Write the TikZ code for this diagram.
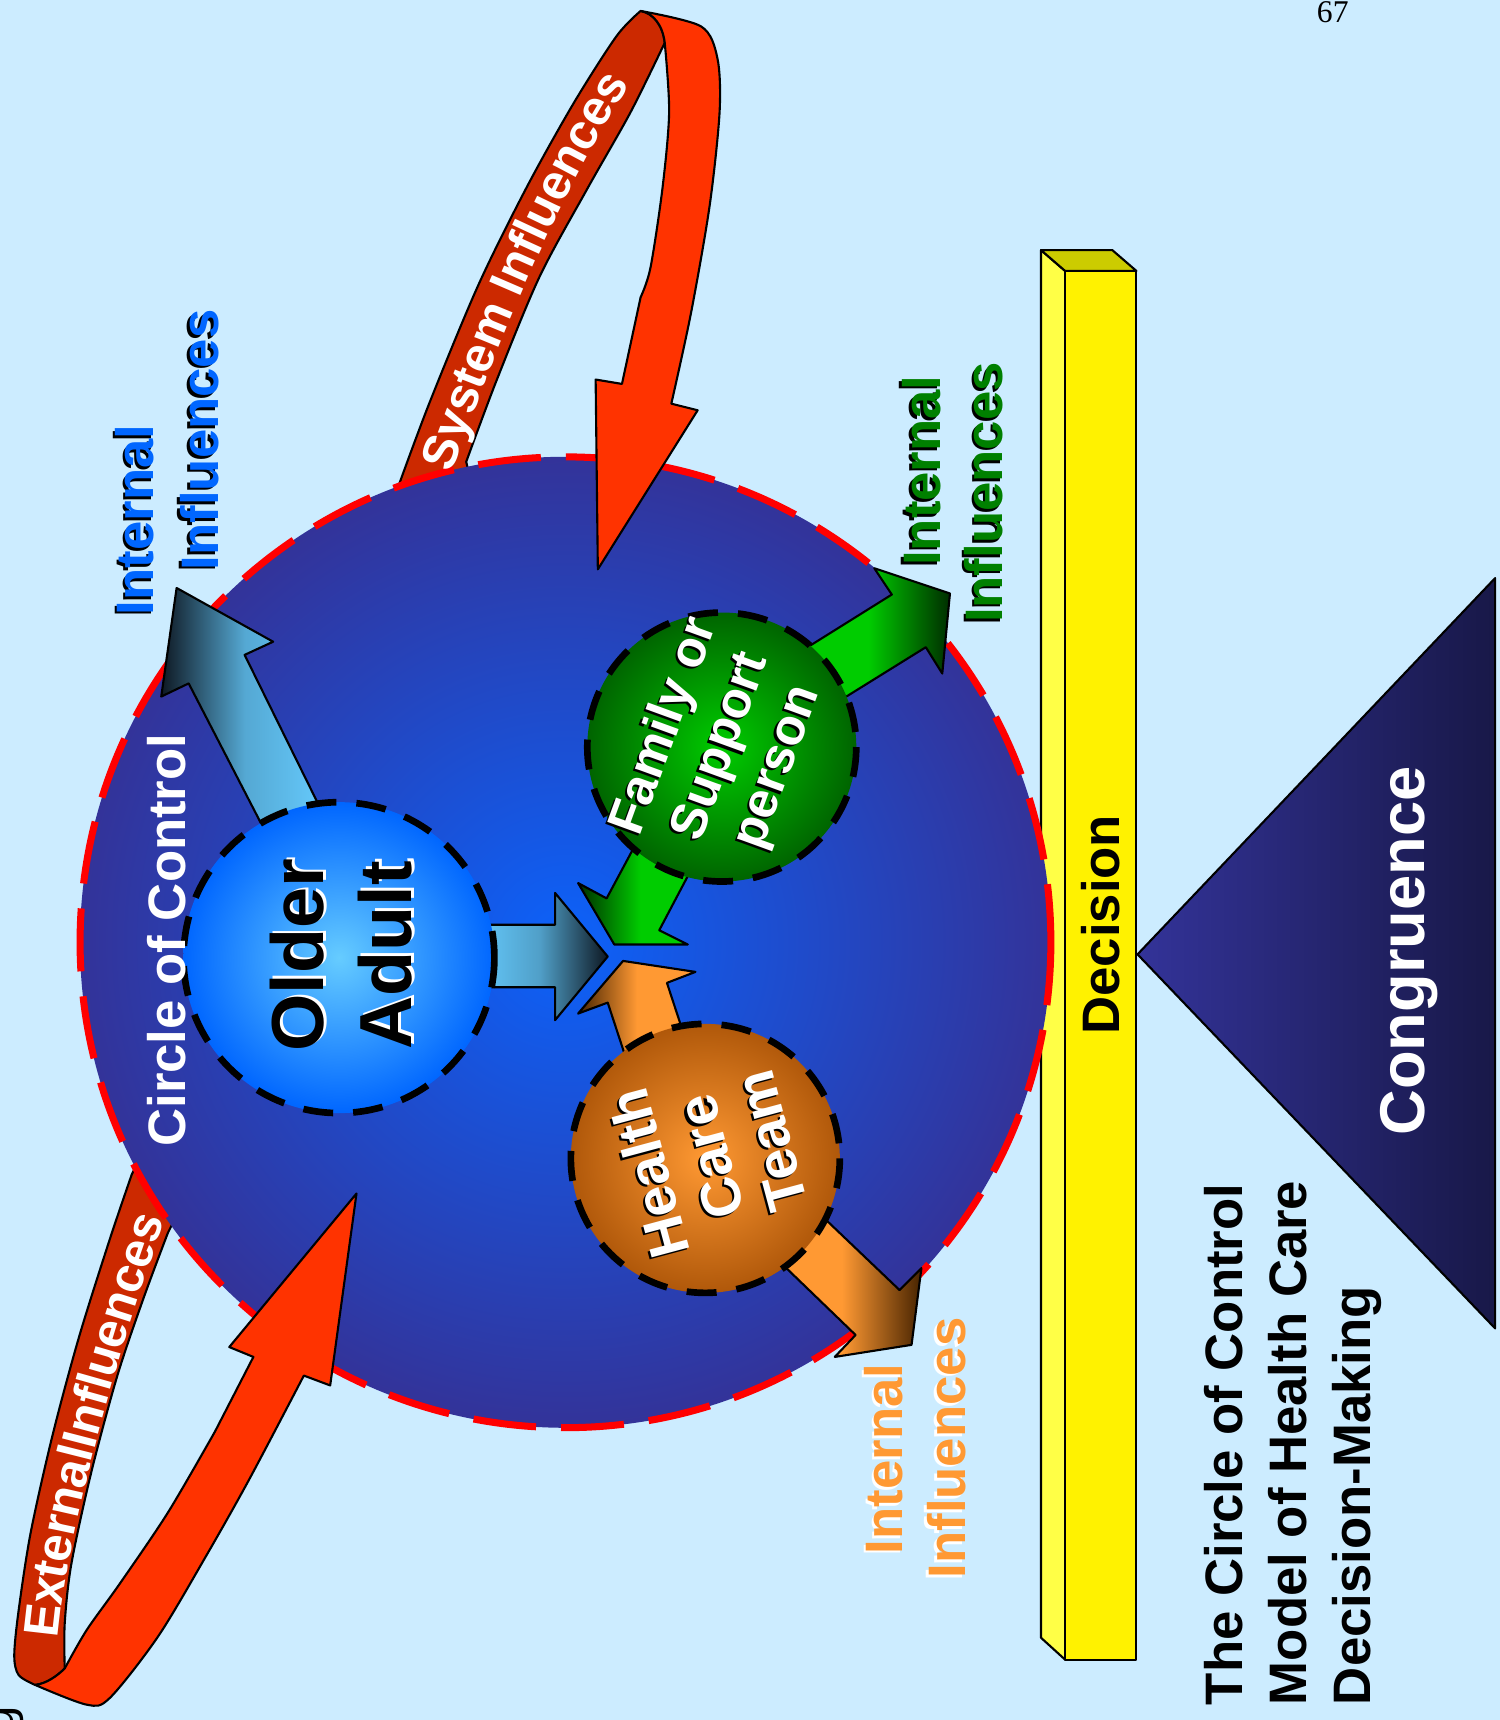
\documentclass[tikz,border=0pt]{standalone}
\usepackage{fontspec}
\setmainfont{Liberation Sans}
\newfontfamily\pagefont{Liberation Serif}
\usetikzlibrary{decorations.text}

\definecolor{sky}{RGB}{204,236,255}
\definecolor{ringin}{RGB}{12,98,250}
\definecolor{ringout}{RGB}{51,51,153}
\definecolor{oldin}{RGB}{102,204,255}
\definecolor{oldout}{RGB}{0,102,255}
\definecolor{famin}{RGB}{0,204,0}
\definecolor{famout}{RGB}{0,100,0}
\definecolor{hcin}{RGB}{255,153,51}
\definecolor{hcout}{RGB}{176,88,10}
\definecolor{ribdark}{RGB}{204,41,0}
\definecolor{riblight}{RGB}{255,51,0}
\definecolor{blueinf}{RGB}{0,102,255}
\definecolor{greeninf}{RGB}{0,128,0}
\definecolor{orangeinf}{RGB}{255,153,51}
\definecolor{arrowdark}{RGB}{14,24,34}
\definecolor{greendark}{RGB}{0,45,0}
\definecolor{browndark}{RGB}{70,35,0}
\definecolor{barside}{RGB}{255,255,70}
\definecolor{bartop}{RGB}{204,204,0}
\definecolor{congleft}{RGB}{51,51,153}
\definecolor{congright}{RGB}{24,24,72}

\newcommand\ribbonfont{\bfseries\fontsize{14}{14}\selectfont}

\begin{document}
\begin{tikzpicture}[x=0.1097mm, y=-0.1097mm, line join=round,
  ribbon/.style={draw=black, line width=0.6pt},
  blockarrow/.style={draw=black, line width=0.6pt},
  member/.style={circle, inner sep=0pt},
  memberline/.style={draw=black, line width=1.9pt, dash pattern=on 3mm off 2mm},
  infl/.style={rotate=90, inner sep=0pt, font=\bfseries\fontsize{15}{18}\selectfont},
  memtext/.style={inner sep=0pt, align=center, text=white}]
  % --- page ---
  \useasboundingbox (0,0) rectangle (1367,1568);
  \fill[sky] (0,0) rectangle (1367,1568);

  % --- decision bar (3d box) ---
  \draw[fill=barside, line width=0.6pt] (949,228) -- (971,247) -- (971,1513) -- (949,1493) -- cycle;
  \draw[fill=bartop, line width=0.6pt] (949,228) -- (1014,228) -- (1036,247) -- (971,247) -- cycle;
  \draw[fill=yellow, line width=0.6pt] (971,247) rectangle (1036,1513);
  \node[rotate=90, inner sep=0pt, font=\bfseries\fontsize{15}{18}\selectfont] (decision) at (1003,843) {Decision};

  % --- ribbons, back side (behind the ring) ---
  \draw[ribbon, fill=ribdark]
    (372,470) -- plot[smooth] coordinates {(364,441) (392,366) (436,260) (480,171) (523,94) (562,33) (584,10)}
    .. controls (595,12) and (604,22) .. (606,39)
    -- plot[smooth] coordinates {(606,39) (575,102) (536,171) (492,252) (453,346) (425,421)}
    -- (432,450) -- cycle;
  \draw[ribbon, fill=ribdark]
    (129,1053) -- plot[smooth] coordinates {(120,1071) (100,1130) (72,1219) (48,1308) (28,1397) (17,1468) (13,1509) (17,1527) (32,1536)}
    .. controls (42,1535) and (52,1528) .. (59,1521)
    -- plot[smooth] coordinates {(59,1521) (59,1480) (65,1426) (83,1343) (107,1254) (131,1183) (153,1124)}
    -- (162,1106) -- cycle;

  % --- circle of control ---
  \node[circle, minimum size=97.1mm, inner sep=0pt, inner color=ringin, outer color=ringout] (ring) at (515.5,859) {};
  \draw[red, line width=2pt, dash pattern=on 6.3mm off 2.5mm] (ring.center) circle[radius=442.5];

  % --- ribbons, front side with heads ---
  \draw[ribbon, fill=riblight]
    plot[smooth] coordinates {(584,10) (639,24) (654,53) (656,102) (647,187) (630,285) (612,368)}
    -- (636,374) -- (545,519) -- (543,346) -- (567,350)
    -- plot[smooth] coordinates {(584,271) (593,244) (604,171) (610,102) (606,39)}
    .. controls (604,22) and (595,12) .. (584,10) -- cycle;
  \draw[ribbon, fill=riblight]
    plot[smooth] coordinates {(32,1536) (79,1554) (100,1548) (144,1492) (187,1420) (227,1349) (277,1254)}
    -- (301,1263) -- (325,1088) -- (209,1228) -- (231,1237)
    -- plot[smooth] coordinates {(196,1305) (153,1379) (109,1444) (79,1486) (59,1521)}
    .. controls (52,1528) and (42,1535) .. (32,1536) -- cycle;
  \path[decorate, decoration={text along path, text={|\ribbonfont|System Influences},
        text color=white, text align=center, raise=-1.75mm}]
    (388,450) .. controls (430,330) and (500,150) .. (576,48);
  \path[decorate, decoration={text along path, text={|\ribbonfont|ExternalInfluences},
        text color=white, text align=center, raise=-1.75mm}]
    (36,1510) .. controls (38,1420) and (95,1210) .. (142,1090);

  % --- block arrows (shafts start under the member circles) ---
  \draw[blockarrow, left color=arrowdark, right color=oldin, middle color=oldin!80!arrowdark]
    (248,770) -- (172,623) -- (147,635) -- (161,536) -- (249,585) -- (223,597) -- (299,751) -- cycle;
  \draw[blockarrow, left color=oldin, right color=arrowdark, middle color=oldin!75!arrowdark]
    (430,843) -- (506,843) -- (506,814) -- (554,872) -- (506,930) -- (506,900) -- (430,900) -- cycle;
  \draw[blockarrow, left color=greendark, right color=famin, middle color=famin]
    (590,750) -- (553,819) -- (527,805) -- (560,861) -- (627,861) -- (601,848) -- (640,774) -- cycle;
  \draw[blockarrow, left color=famin, right color=greendark, middle color=famin]
    (717,602) -- (813,542) -- (797,518) -- (866,541) -- (859,614) -- (844,590) -- (749,649) -- cycle;
  \draw[blockarrow, left color=browndark, right color=hcin, middle color=hcin]
    (576,981) -- (554,914) -- (527,924) -- (568,876) -- (634,886) -- (608,896) -- (629,960) -- cycle;
  \draw[blockarrow, left color=hcin, right color=browndark, middle color=hcin]
    (733,1093) -- (820,1176) -- (840,1156) -- (831,1226) -- (761,1237) -- (780,1217) -- (695,1135) -- cycle;

  % --- members ---
  \node[member, minimum size=31.1mm, inner color=oldin, outer color=oldout] (older) at (309,873) {};
  \node[member, minimum size=26.9mm, inner color=famin, outer color=famout] (family) at (658,681) {};
  \node[member, minimum size=26.9mm, inner color=hcin, outer color=hcout] (care) at (643,1056) {};
  \draw[memberline] (older.center) circle[radius=141.7];
  \draw[memberline] (family.center) circle[radius=122.6];
  \draw[memberline] (care.center) circle[radius=122.6];

  \node[memtext, rotate=90, font=\bfseries\fontsize{21}{25}\selectfont] (oldershadow) at (313.5,868.5) {Older\\Adult};
  \node[memtext, rotate=90, text=black, font=\bfseries\fontsize{21}{25}\selectfont] (oldertext) at (311,871) {Older\\Adult};
  \node[memtext, rotate=70, text=black, font=\bfseries\fontsize{14.5}{17}\selectfont] (familyshadow) at (656,683) {Family or\\Support\\person};
  \node[memtext, rotate=70, font=\bfseries\fontsize{14.5}{17}\selectfont] (familytext) at (family) {Family or\\Support\\person};
  \node[memtext, rotate=105, text=black, font=\bfseries\fontsize{16}{18}\selectfont] (careshadow) at (645,1057) {Health\\Care\\Team};
  \node[memtext, rotate=105, font=\bfseries\fontsize{16}{18}\selectfont] (caretext) at (647,1055) {Health\\Care\\Team};
  \node[infl, text=white] (circlelabel) at (152,857) {Circle of Control};

  % --- internal influences labels (with drop shadow) ---
  \foreach \nm/\px/\py/\col/\shcol/\txt in {
      olderint/123/474/blueinf/black/Internal,
      olderinf/182/401/blueinf/black/Influences,
      familyint/840/429/greeninf/black/Internal,
      familyinf/897/449/greeninf/black/Influences,
      careint/806/1330/orangeinf/white/Internal,
      careinf/863/1320/orangeinf/white/Influences} {
    \node[infl, text=\shcol] (\nm-sh) at (\px-2.5,\py+2.5) {\txt};
    \node[infl, text=\col] (\nm) at (\px,\py) {\txt};
  }

  % --- congruence wedge ---
  \draw[line width=0.6pt, left color=congleft, right color=congright] (1037,870) -- (1363,527) -- (1363,1211) -- cycle;
  \node[rotate=90, inner sep=0pt, text=white, font=\bfseries\fontsize{18}{21}\selectfont] (congruence) at (1285,867) {Congruence};

  % --- title and page number ---
  \node[rotate=90, anchor=north west, align=left, inner sep=0pt,
        font=\bfseries\fontsize{15}{18.3}\selectfont] (title) at (1097,1555)
    {The Circle of Control\\Model of Health Care\\Decision-Making};
  \node[font=\pagefont\fontsize{9}{9}\selectfont, inner sep=0pt] (pageno) at (1215,11) {67};
  \node[rotate=90, inner sep=0pt, font=\fontsize{14}{14}\selectfont] (gfrag) at (5,1568) {g};
\end{tikzpicture}
\end{document}
